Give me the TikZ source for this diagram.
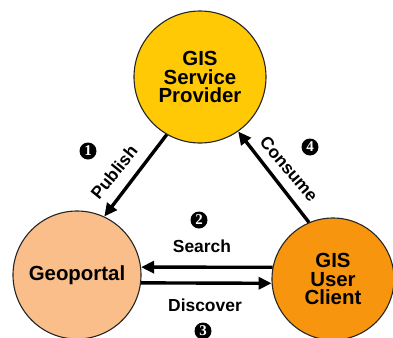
\documentclass[tikz,border=0pt]{standalone}
\usepackage{fontspec}
\setmainfont{Liberation Sans}
\newfontfamily\numfont{Liberation Serif}
\usetikzlibrary{arrows.meta}
\definecolor{provider}{HTML}{FFC906}
\definecolor{portal}{HTML}{FABE8A}
\definecolor{client}{HTML}{F7960E}
\tikzset{
  actor/.style={circle, draw=black!85, line width=1.1bp, inner sep=0pt,
    align=center, font=\bfseries\fontsize{20.5}{19}\selectfont},
  flow/.style={line width=3.4bp, -{Triangle[length=13bp,width=12bp]}},
  flowlabel/.style={font=\bfseries\fontsize{17.5}{17}\selectfont, inner sep=0pt},
  stepno/.style={circle, fill=black, inner sep=0pt, minimum size=17bp,
    text=white, font=\numfont\bfseries\fontsize{15}{15}\selectfont}
}
\begin{document}
\begin{tikzpicture}[x=1bp, y=-1bp]
\useasboundingbox (0,0) rectangle (393,338);
\begin{scope}
\clip (0,0) rectangle (393,338);
\node[actor, fill=provider, minimum size=132bp] (sp) at (200,77) {GIS\\Service\\Provider};
\node[actor, fill=portal, minimum size=128bp] (gp) at (77,275) {Geoportal};
\node[actor, fill=client, minimum size=122bp] (uc) at (333,279) {GIS\\User\\Client};
\end{scope}

% publish and consume
\draw[flow] (sp.240) -- (gp.65);
\draw[flow] (uc.113) -- (sp.305);
% search and discover
\draw[flow] (uc.169) -- (gp.7);
\draw[flow] (gp.-7) -- (uc.184);

\node[flowlabel, rotate=51] (lpub) at (114,172) {Publish};
\node[flowlabel, rotate=-50] (lcon) at (289,169) {Consume};
\node[flowlabel] (lsea) at (202,246) {Search};
\node[flowlabel] (ldis) at (205,305) {Discover};

\node[stepno] (n1) at (88,151) {1};
\node[stepno] (n2) at (199,220) {2};
\node[stepno] (n3) at (203,331) {3};
\node[stepno] (n4) at (310,147) {4};
\end{tikzpicture}
\end{document}
